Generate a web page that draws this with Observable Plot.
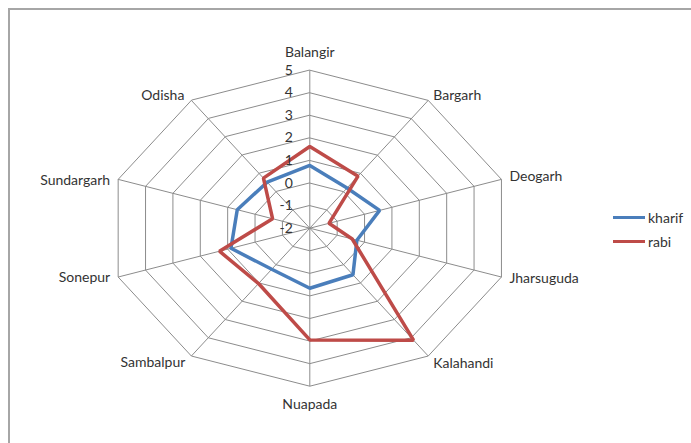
<!DOCTYPE html>
<html>
<head>
<meta charset="utf-8">
<script src="https://cdn.jsdelivr.net/npm/d3@7"></script>
<script src="https://cdn.jsdelivr.net/npm/@observablehq/plot@0.6"></script>
<style>
  html, body { margin: 0; padding: 0; background: #fff; overflow: hidden; width: 691px; height: 443px; }
  #frame { position: absolute; left: 8px; top: 8px; width: 800px; height: 600px; border: 2px solid #a6a6a6; box-sizing: border-box; }
  #chart { position: absolute; left: 0; top: 0; }
  #legend { position: absolute; left: 613px; top: 205px; font-family: Lato, "Open Sans", sans-serif; font-size: 14px; color: #333; }
  .item { display: flex; align-items: center; height: 24.5px; }
  .sw { width: 32px; height: 0; border-top: 3px solid; margin-right: 3px; }
</style>
</head>
<body>
<div id="frame"></div>
<div id="chart"></div>
<div id="legend"></div>
<script>
// ---- data ----
const districts = ["Balangir", "Bargarh", "Deogarh", "Jharsuguda", "Kalahandi", "Nuapada", "Sambalpur", "Sonepur", "Sundargarh", "Odisha"];
const kharif = [0.78, 0.2, 0.55, -0.28, 0.55, 0.66, 0.25, 0.88, 0.65, 0.52];
const rabi = [1.62, 0.85, -1.3, -0.45, 4.13, 2.95, 1.03, 1.3, -0.64, 0.74];
const ticks = [-2, -1, 0, 1, 2, 3, 4, 5];
const seriesNames = ["kharif", "rabi"];
const seriesColors = ["#4a7ebb", "#be4b48"];

// ---- layout options ----
const minV = -2, maxV = 5;
const R = maxV - minV;
const labelStyle = {
  Balangir:   {anchor: "middle", dx: 0,  dy: -18},
  Bargarh:    {anchor: "start",  dx: 5,  dy: -5},
  Deogarh:    {anchor: "start",  dx: 8,  dy: -3},
  Jharsuguda: {anchor: "start",  dx: 8,  dy: 1},
  Kalahandi:  {anchor: "start",  dx: 5,  dy: 7},
  Nuapada:    {anchor: "middle", dx: 0,  dy: 18},
  Sambalpur:  {anchor: "end",    dx: -6, dy: 6},
  Sonepur:    {anchor: "end",    dx: -8, dy: 0},
  Sundargarh: {anchor: "end",    dx: -8, dy: 1},
  Odisha:     {anchor: "end",    dx: -7, dy: -5}
};

const n = districts.length;
const ang = i => i * 2 * Math.PI / n;
const px = (i, r) => Math.sin(ang(i)) * r;
const py = (i, r) => Math.cos(ang(i)) * r;

// grid rings
const rings = [];
for (const t of ticks) {
  const r = t - minV;
  if (r <= 0) continue;
  districts.forEach((d, i) => rings.push({ring: t, x: px(i, r), y: py(i, r)}));
}
const spokes = districts.map((d, i) => ({x1: 0, y1: 0, x2: px(i, R), y2: py(i, R)}));

const series = [];
[kharif, rabi].forEach((vals, s) => {
  vals.forEach((v, i) => series.push({series: seriesNames[s], x: px(i, v - minV), y: py(i, v - minV)}));
});

const tickData = ticks.map(t => ({t, x: 0, y: t - minV}));
const labelData = districts.map((d, i) => ({name: d, x: px(i, R), y: py(i, R)}));

const font = "Lato, 'Open Sans', sans-serif";

const labelMarks = labelData.map(d => {
  const s = labelStyle[d.name];
  return Plot.text([d], {x: "x", y: "y", text: "name", textAnchor: s.anchor, dx: s.dx, dy: s.dy,
    fontSize: 14, fill: "#333", fontFamily: font});
});

const chart = Plot.plot({
  width: 691,
  height: 443,
  marginLeft: 107.8,
  marginRight: 180.2,
  marginTop: 69.7,
  marginBottom: 57.3,
  x: {domain: [-R, R], axis: null},
  y: {domain: [-R, R], axis: null},
  color: {domain: seriesNames, range: seriesColors},
  style: {fontFamily: font, background: "transparent"},
  marks: [
    Plot.link(spokes, {x1: "x1", y1: "y1", x2: "x2", y2: "y2", stroke: "#8c8c8c", strokeWidth: 1}),
    Plot.line(rings, {x: "x", y: "y", z: "ring", curve: "linear-closed", stroke: "#8c8c8c", strokeWidth: 1}),
    Plot.line(series, {x: "x", y: "y", z: "series", stroke: "series", curve: "linear-closed", strokeWidth: 3.5, strokeLinejoin: "miter"}),
    Plot.text(tickData, {x: "x", y: "y", text: d => String(d.t), textAnchor: "end", dx: -17, fontSize: 14, fill: "#333", fontFamily: font}),
    ...labelMarks
  ]
});
document.getElementById("chart").append(chart);

const legend = document.getElementById("legend");
seriesNames.forEach((name, i) => {
  const item = document.createElement("div");
  item.className = "item";
  const sw = document.createElement("span");
  sw.className = "sw";
  sw.style.borderTopColor = seriesColors[i];
  const tx = document.createElement("span");
  tx.textContent = name;
  item.append(sw, tx);
  legend.append(item);
});
</script>
</body>
</html>
